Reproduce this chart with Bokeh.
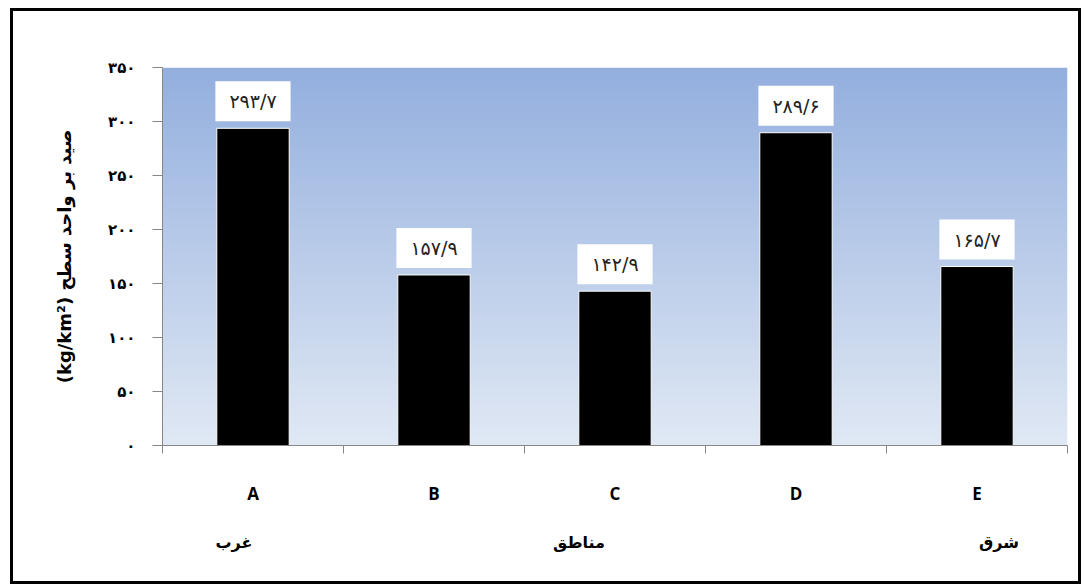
import numpy as np
from bokeh.plotting import figure
from bokeh.models import (FactorRange, Range1d, LinearAxis, CategoricalAxis,
                          FixedTicker, ColumnDataSource)
from bokeh.embed import file_html
from bokeh.resources import INLINE
from bokeh.core.properties import value

# ---- data ----
regions = ["A", "B", "C", "D", "E"]
cpue = [293.7, 157.9, 142.9, 289.6, 165.7]
y_ticks = [0, 50, 100, 150, 200, 250, 300, 350]
side_names = {"A": "غرب", "C": "مناطق", "E": "شرق"}
y_title = "(kg/km²) صید بر واحد سطح"

# ---- styling ----
W_IN, H_IN = 1071, 576
MB_L, MB_T, MB_R, MB_B = 149, 56, 17, 142
side_offsets_px = {"A": -19, "C": -36, "E": 22}
FA_FONT = "DejaVu Sans"
AXIS_GREY = "#868686"

FA = str.maketrans("0123456789.", "۰۱۲۳۴۵۶۷۸۹/")


def fa(v):
    return str(v).translate(FA)


y_max = y_ticks[-1]
src = ColumnDataSource(dict(region=regions, cpue=cpue,
                            label=[fa(v) for v in cpue]))

p = figure(width=W_IN, height=H_IN,
           x_range=FactorRange(*regions, range_padding=0),
           y_range=Range1d(0, y_max),
           x_axis_location=None,
           output_backend="svg", toolbar_location=None,
           min_border_left=MB_L, min_border_top=MB_T,
           min_border_right=MB_R, min_border_bottom=MB_B)
p.styles = {"border": "3px solid black", "margin-left": "10px",
            "margin-top": "8px"}
p.outline_line_color = None
p.grid.visible = False
p.border_fill_color = "white"

# gradient background for plot area
top_c = np.array([0x93, 0xAF, 0xDE], dtype=float)
bot_c = np.array([0xE0, 0xE8, 0xF4], dtype=float)
n = 256
t = np.linspace(0, 1, n)[:, None]
rgb = bot_c + (top_c - bot_c) * t
img = np.empty((n, 2), dtype=np.uint32)
view = img.view(dtype=np.uint8).reshape((n, 2, 4))
for k in range(3):
    view[:, :, k] = np.round(rgb[:, k])[:, None]
view[:, :, 3] = 255
p.image_rgba(image=[img], x=0, y=0, dw=len(regions), dh=y_max)

# bars
p.vbar(x="region", top="cpue", width=0.4, source=src,
       fill_color="black", line_color="white", line_width=1)

# value labels in white boxes
p.text(x="region", y="cpue", text="label", source=src,
       anchor="bottom_center", text_align="center", text_baseline="bottom",
       y_offset=-7, padding=(14, 9), background_fill_color="white",
       text_font=value(FA_FONT), text_font_size="19px", text_color="#222222")

# y axis
ya = p.yaxis[0]
ya.ticker = FixedTicker(ticks=y_ticks)
ya.major_label_overrides = {tk: fa(tk) for tk in y_ticks}
ya.axis_line_color = AXIS_GREY
ya.major_tick_line_color = AXIS_GREY
ya.major_tick_out = 10
ya.major_tick_in = 0
ya.minor_tick_line_color = None
ya.major_label_standoff = 17
ya.major_label_text_font = FA_FONT
ya.major_label_text_font_style = "bold"
ya.major_label_text_font_size = "15px"
ya.major_label_text_color = "black"
ya.axis_label = y_title
ya.axis_label_text_font = FA_FONT
ya.axis_label_text_font_style = "bold"
ya.axis_label_text_font_size = "18px"
ya.axis_label_text_color = "black"
ya.axis_label_standoff = 30

# x axis line with ticks at category edges (minor ticks -> no labels)
edge_axis = LinearAxis(ticker=FixedTicker(ticks=[],
                                          minor_ticks=list(range(len(regions) + 1))),
                       axis_line_color=AXIS_GREY,
                       major_tick_line_color=None,
                       minor_tick_line_color=AXIS_GREY,
                       minor_tick_out=8, minor_tick_in=0,
                       major_label_standoff=0)
p.add_layout(edge_axis, "below")

# category labels
cat_axis = CategoricalAxis(axis_line_color=None, major_tick_line_color=None,
                           minor_tick_line_color=None,
                           major_label_standoff=22,
                           major_label_text_font="Open Sans",
                           major_label_text_font_style="bold",
                           major_label_text_font_size="17px",
                           major_label_text_color="black")
p.add_layout(cat_axis, "below")

# second row: side names under the categories
cat_px = (W_IN - MB_L - MB_R) / len(regions)
side_pos = [regions.index(c) + 0.5 + side_offsets_px[c] / cat_px for c in side_names]
side_axis = LinearAxis(ticker=FixedTicker(ticks=side_pos, minor_ticks=[]),
                       major_label_overrides={pos: side_names[c]
                                              for pos, c in zip(side_pos, side_names)},
                       axis_line_color=None, major_tick_line_color=None,
                       minor_tick_line_color=None,
                       major_label_standoff=19,
                       major_label_text_font=FA_FONT,
                       major_label_text_font_style="bold",
                       major_label_text_font_size="16px",
                       major_label_text_color="black")
p.add_layout(side_axis, "below")

open("out.html", "w").write(file_html(p, INLINE))
